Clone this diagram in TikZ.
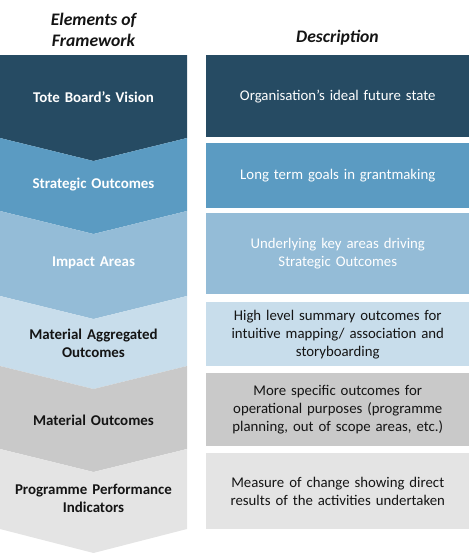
\documentclass[tikz,border=0pt]{standalone}
\usepackage{fontspec}
\setmainfont{Carlito}
\usepackage{xcolor}
\usetikzlibrary{positioning}
\definecolor{VisionBlue}{RGB}{38, 75, 99}
\definecolor{StrategicBlue}{RGB}{91, 155, 194}
\definecolor{ImpactBlue}{RGB}{148, 188, 215}
\definecolor{AggregatedBlue}{RGB}{200, 221, 235}
\definecolor{MaterialGrey}{RGB}{201, 201, 201}
\definecolor{IndicatorGrey}{RGB}{228, 228, 228}
\definecolor{TextDark}{RGB}{20, 20, 20}

\begin{document}
\begin{tikzpicture}[x=0.75pt, y=-0.75pt,
    head/.style={font=\fontsize{13.2}{15.75}\selectfont\bfseries\itshape, align=center, text=TextDark},
    elem/.style={font=\fontsize{11.2}{13.5}\selectfont\bfseries, align=center, text width=138pt},
    desc/.style={anchor=north west, inner sep=0pt, minimum width=197.25pt, text width=190pt,
                 font=\fontsize{11.1}{13.5}\selectfont, align=center}]
  \useasboundingbox (0,0) rectangle (469,553);

  % column headings
  \node[head] (elemhead) at (93.5,30) {Elements of\\Framework};
  \node[head] (deschead) at (337.5,38) {Description};

  % chevrons on the left
  \fill[VisionBlue] (0,55) -- (187,55) -- (187,138) -- (93.5,161) -- (0,138) -- cycle;
  \fill[StrategicBlue] (0,138) -- (93.5,161) -- (187,138) -- (187,211) -- (93.5,234) -- (0,211) -- cycle;
  \fill[ImpactBlue] (0,211) -- (93.5,234) -- (187,211) -- (187,296) -- (93.5,319) -- (0,296) -- cycle;
  \fill[AggregatedBlue] (0,296) -- (93.5,319) -- (187,296) -- (187,366) -- (93.5,389) -- (0,366) -- cycle;
  \fill[MaterialGrey] (0,366) -- (93.5,389) -- (187,366) -- (187,449) -- (93.5,472) -- (0,449) -- cycle;
  \fill[IndicatorGrey] (0,449) -- (93.5,472) -- (187,449) -- (187,529) -- (93.5,553) -- (0,529) -- cycle;

  \node[elem, text=white] (vision) at (93.5,97) {Tote Board’s Vision};
  \node[elem, text=white] (strategic) at (93.5,185) {Strategic Outcomes};
  \node[elem, text=white] (impact) at (93.5,263) {Impact Areas};
  \node[elem, text=TextDark] (aggregated) at (93.5,343) {Material Aggregated\\Outcomes};
  \node[elem, text=TextDark] (material) at (93.5,420) {Material Outcomes};
  \node[elem, text=TextDark] (indicators) at (93.5,498) {Programme Performance\\Indicators};

  % description boxes on the right
  \node[desc, fill=VisionBlue, text=white, minimum height=61.5pt] (visiondesc) at (206,55)
    {Organisation's ideal future state};
  \node[desc, fill=StrategicBlue, text=white, minimum height=48.75pt] (strategicdesc) at (206,143)
    {Long term goals in grantmaking};
  \node[desc, fill=ImpactBlue, text=white, minimum height=60.75pt] (impactdesc) at (206,213)
    {Underlying key areas driving\\Strategic Outcomes};
  \node[desc, fill=AggregatedBlue, text=TextDark, minimum height=48pt] (aggregateddesc) at (206,302)
    {High level summary outcomes for\\intuitive mapping/ association and\\storyboarding};
  \node[desc, fill=MaterialGrey, text=TextDark, minimum height=54.75pt] (materialdesc) at (206,373)
    {More specific outcomes for\\operational purposes (programme\\planning, out of scope areas, etc.)};
  \node[desc, fill=IndicatorGrey, text=TextDark, minimum height=57pt] (indicatorsdesc) at (206,453)
    {Measure of change showing direct\\results of the activities undertaken};
\end{tikzpicture}
\end{document}
